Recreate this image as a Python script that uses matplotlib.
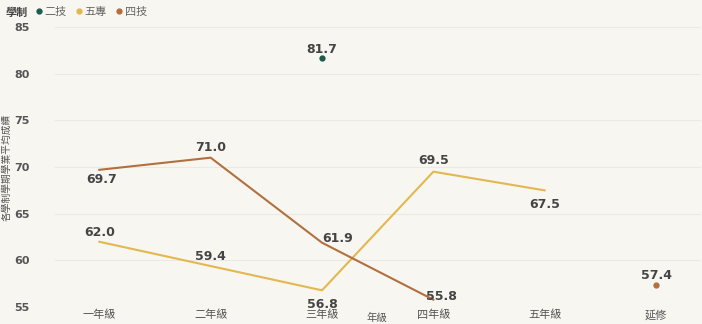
import matplotlib.pyplot as plt
import numpy as np

plt.rcParams['font.family'] = ['Noto Sans CJK TC', 'DejaVu Sans']

categories = ["一年級", "二年級", "三年級", "四年級", "五年級", "延修"]
erji = [np.nan, np.nan, 81.7, np.nan, np.nan, np.nan]
wuzhuan = [62.0, 59.4, 56.8, 69.5, 67.5, np.nan]
siji = [69.7, 71.0, 61.9, 55.8, np.nan, 57.4]

bg = "#f8f6f1"
c_erji = "#1d5b4f"
c_wuzhuan = "#e2b84f"
c_siji = "#b2703f"

fig = plt.figure(figsize=(7.02, 3.24), dpi=100, facecolor=bg)
ax = fig.add_axes([0.078, 0.052, 0.92, 0.865], facecolor=bg)

x = np.arange(len(categories))
ax.plot(x, wuzhuan, color=c_wuzhuan, lw=1.5)
ax.plot(x, siji, color=c_siji, lw=1.5)
# isolated points
for vals, c in [(erji, c_erji), (wuzhuan, c_wuzhuan), (siji, c_siji)]:
    v = np.array(vals)
    for i in range(len(v)):
        if np.isnan(v[i]):
            continue
        left = i == 0 or np.isnan(v[i - 1])
        right = i == len(v) - 1 or np.isnan(v[i + 1])
        if left and right:
            ax.plot(x[i], v[i], "o", color=c, ms=3.5)

# data labels (offsets in points)
offsets = {
    "erji": [None, None, (0, 6), None, None, None],
    "wuzhuan": [(0, 7), (0, 7), (0, -10), (0, 8), (0, -10), None],
    "siji": [(2, -7), (0, 7), (11, 3), (6, 2), None, (0, 7)],
}
for key, vals in [("erji", erji), ("wuzhuan", wuzhuan), ("siji", siji)]:
    for i, v in enumerate(vals):
        if np.isnan(v):
            continue
        ax.annotate(f"{v:.1f}", (x[i], v), xytext=offsets[key][i], textcoords="offset points",
                    ha="center", va="center", fontsize=9, color="#444444", fontweight="semibold",
                    family="DejaVu Sans")

ax.set_xlim(-0.4, 5.4)
ax.set_ylim(55, 85)
ax.set_yticks(range(55, 86, 5))
ax.set_xticks(x)
ax.set_xticklabels(categories)
ax.tick_params(axis="both", length=0, labelsize=8, colors="#555555")
ax.tick_params(axis="x", pad=2)
ax.tick_params(axis="y", pad=18)
for lbl in ax.get_yticklabels():
    lbl.set_family("DejaVu Sans")
    lbl.set_fontweight("semibold")
ax.grid(axis="y", color="#ece9e2", lw=0.8)
ax.set_axisbelow(True)
for s in ax.spines.values():
    s.set_visible(False)

fig.text(0.537, 0.003, "年級", fontsize=7.5, color="#555555", ha="center", va="bottom")
ax.set_ylabel("各學制學期學業平均成績", fontsize=7, color="#555555", labelpad=2)

# legend
fig.text(0.008, 0.962, "學制", fontsize=8, fontweight="bold", color="#444444", va="center")
handles = [plt.Line2D([], [], marker="o", ls="", color=c, ms=3.5) for c in (c_erji, c_wuzhuan, c_siji)]
fig.legend(handles, ["二技", "五專", "四技"], loc="center left", bbox_to_anchor=(0.048, 0.962),
           ncol=3, frameon=False, fontsize=8, handletextpad=0.0, columnspacing=0.6,
           handlelength=1.0, labelcolor="#666666", borderaxespad=0, borderpad=0)

fig.savefig("out.png", dpi=100, facecolor=bg)
